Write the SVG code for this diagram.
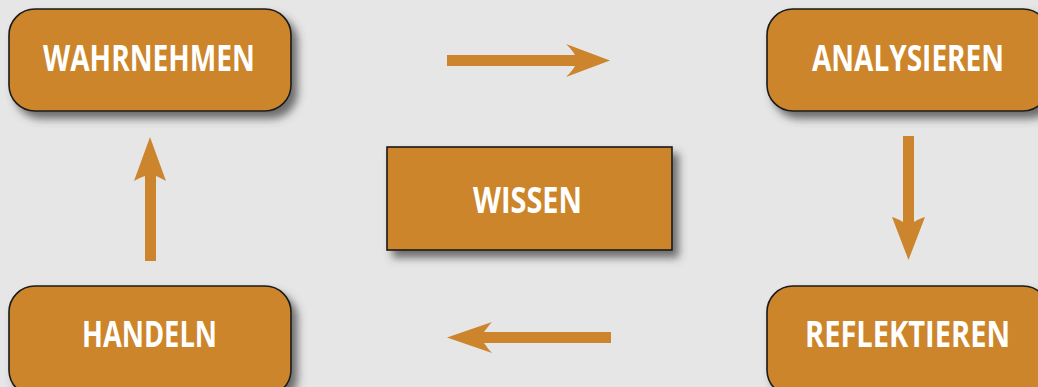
<svg xmlns="http://www.w3.org/2000/svg" width="1038" height="387" viewBox="0 0 1038 387">
  <defs>
    <filter id="sh" x="-10%" y="-10%" width="130%" height="140%">
      <feDropShadow dx="6" dy="7" stdDeviation="4" flood-color="#444" flood-opacity="0.75"/>
    </filter>
  </defs>
  <style>
    .box { fill: #CC852C; stroke: #1a1a1a; stroke-width: 1.6; filter: url(#sh); }
    .lbl { font-family: "Open Sans", "Liberation Sans", sans-serif; font-weight: bold; font-size: 36px; fill: #ffffff; text-anchor: middle; }
    .arr { fill: #CC852C; }
  </style>
  <rect width="1038" height="387" fill="#E6E6E6"/>
  <g id="connectors">
    <path class="arr" d="M447,55 H575 C572,50 569,47 566,44 L610,60.5 L566,77 C569,74 572,71 575,66 H447 Z"/>
    <path class="arr" d="M903,136 V222 C898,219 895,218 892,217 L908.5,260 L925,217 C922,218 919,219 914,222 V136 Z"/>
    <path class="arr" d="M611,332 H484 C487,328 489,325 492,322 L447,337.5 L492,353 C489,350 487,347 484,343 H611 Z"/>
    <path class="arr" d="M145,261 V176 C140,178 137,179 134,181 L150,137 L166,181 C163,179 160,178 156,176 V261 Z"/>
  </g>
  <g id="wahrnehmen">
    <rect class="box" x="9" y="9" width="282" height="102" rx="26"/>
    <text class="lbl" x="149" y="71" textLength="212" lengthAdjust="spacingAndGlyphs">WAHRNEHMEN</text>
  </g>
  <g id="analysieren">
    <rect class="box" x="767" y="9" width="282" height="102" rx="26"/>
    <text class="lbl" x="908" y="71" textLength="192" lengthAdjust="spacingAndGlyphs">ANALYSIEREN</text>
  </g>
  <g id="wissen">
    <rect class="box" x="387" y="147" width="285" height="103"/>
    <text class="lbl" x="527.5" y="213" textLength="109" lengthAdjust="spacingAndGlyphs">WISSEN</text>
  </g>
  <g id="handeln">
    <rect class="box" x="9" y="286" width="282" height="110" rx="26"/>
    <text class="lbl" x="149.5" y="347" textLength="135" lengthAdjust="spacingAndGlyphs">HANDELN</text>
  </g>
  <g id="reflektieren">
    <rect class="box" x="767" y="286" width="282" height="110" rx="26"/>
    <text class="lbl" x="907.5" y="347" textLength="205" lengthAdjust="spacingAndGlyphs">REFLEKTIEREN</text>
  </g>
</svg>
